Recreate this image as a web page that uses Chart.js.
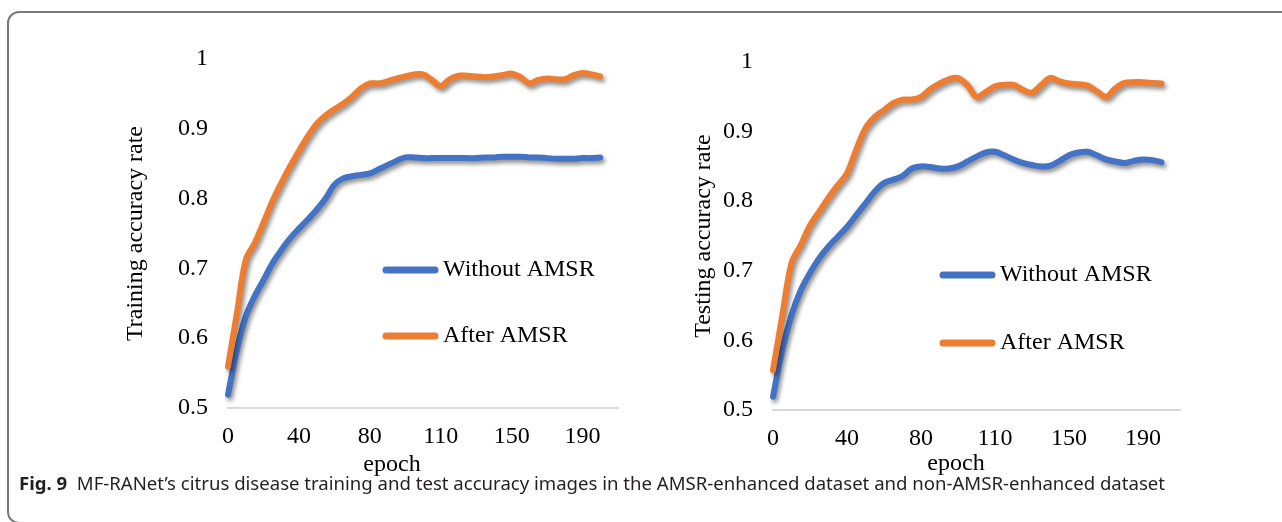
<!DOCTYPE html>
<html>
<head>
<meta charset="utf-8">
<script src="https://cdn.jsdelivr.net/npm/chart.js@4.4.0/dist/chart.umd.min.js"></script>
<style>
  html, body { margin: 0; padding: 0; background: #fff; }
  body { width: 1282px; height: 522px; position: relative; overflow: hidden; }
  .frame { position: absolute; left: 7px; top: 11px; width: 1300px; height: 513px;
           border: 2px solid #7a7a7a; border-radius: 12px; box-sizing: border-box; }
  .box { position: absolute; }
  #caption { position: absolute; left: 19px; top: 471px; font-family: 'Noto Sans', sans-serif;
             font-size: 18px; line-height: 24px; color: #231f20; white-space: nowrap; transform-origin: 0 0; }
</style>
</head>
<body>
<div class="frame"></div>
<div class="box" style="left:100px; top:20px;"><canvas id="train" width="540" height="470"></canvas></div>
<div class="box" style="left:660px; top:20px;"><canvas id="test" width="545" height="470"></canvas></div>
<div id="caption"><b>Fig. 9</b>&nbsp; MF-RANet’s citrus disease training and test accuracy images in the AMSR-enhanced dataset and non-AMSR-enhanced dataset</div>

<script>
// x axis: 45 categories, a label every 8th one
const tickLabels = ['0', '40', '80', '110', '150', '190'];
const epochs = Array.from({ length: 45 }, (_, i) => (i % 8 === 0 && tickLabels[i / 8]) || '');

const seriesNames = ['Without AMSR', 'After AMSR'];
const seriesColors = ['#4472C4', '#ED7D31'];

const trainWithout = [0.519, 0.583, 0.631, 0.660, 0.683, 0.707, 0.726, 0.743, 0.757, 0.770,
  0.784, 0.800, 0.820, 0.829, 0.832, 0.834, 0.836, 0.842, 0.848, 0.854,
  0.859, 0.859, 0.858, 0.858, 0.858, 0.858, 0.858, 0.858, 0.858, 0.859,
  0.859, 0.860, 0.860, 0.860, 0.859, 0.859, 0.858, 0.857, 0.857, 0.857,
  0.858, 0.858, 0.859];
const trainAfter = [0.559, 0.635, 0.712, 0.736, 0.765, 0.796, 0.822, 0.846, 0.868, 0.889,
  0.907, 0.919, 0.928, 0.936, 0.946, 0.958, 0.965, 0.965, 0.968, 0.972,
  0.975, 0.978, 0.978, 0.970, 0.961, 0.971, 0.976, 0.976, 0.975, 0.974,
  0.975, 0.977, 0.979, 0.974, 0.965, 0.970, 0.972, 0.971, 0.971, 0.977,
  0.980, 0.978, 0.975];
const testWithout = [0.519, 0.586, 0.636, 0.672, 0.697, 0.718, 0.735, 0.749, 0.763, 0.780,
  0.797, 0.814, 0.826, 0.831, 0.836, 0.847, 0.850, 0.849, 0.847, 0.847,
  0.850, 0.857, 0.864, 0.870, 0.871, 0.866, 0.860, 0.855, 0.852, 0.850,
  0.851, 0.858, 0.866, 0.870, 0.871, 0.866, 0.860, 0.857, 0.855, 0.858,
  0.860, 0.859, 0.856];
const testAfter = [0.557, 0.635, 0.711, 0.737, 0.765, 0.785, 0.805, 0.823, 0.840, 0.874,
  0.905, 0.921, 0.931, 0.941, 0.946, 0.946, 0.950, 0.961, 0.969, 0.975,
  0.977, 0.967, 0.950, 0.957, 0.965, 0.967, 0.967, 0.960, 0.956, 0.967,
  0.977, 0.972, 0.969, 0.968, 0.966, 0.958, 0.950, 0.962, 0.970, 0.971,
  0.971, 0.970, 0.969];

const serif = "'Times New Roman', 'Liberation Serif', serif";

// excel style drop shadow under the lines
const shadowPlugin = {
  id: 'lineShadow',
  beforeDatasetDraw(chart) {
    const ctx = chart.ctx;
    ctx.save();
    ctx.shadowColor = 'rgba(0,0,0,0.45)';
    ctx.shadowBlur = 4;
    ctx.shadowOffsetX = 2;
    ctx.shadowOffsetY = 3;
  },
  afterDatasetDraw(chart) {
    chart.ctx.restore();
  }
};

// legend inside the plot + x title that is centred on the excel plot area
const extrasPlugin = {
  id: 'extras',
  afterDraw(chart, args, opts) {
    const ctx = chart.ctx;
    ctx.save();
    ctx.font = '24px ' + serif;
    ctx.textBaseline = 'middle';
    ctx.fillStyle = '#000';
    seriesNames.forEach((name, i) => {
      const y = opts.legendY[i];
      ctx.strokeStyle = seriesColors[i];
      ctx.lineWidth = 7;
      ctx.lineCap = 'round';
      ctx.beginPath();
      ctx.moveTo(opts.legendX, y);
      ctx.lineTo(opts.legendX + 49, y);
      ctx.stroke();
      ctx.textAlign = 'left';
      ctx.fillText(name, opts.legendX + 57, y);
    });
    ctx.textAlign = 'center';
    ctx.fillText('epoch', opts.titleX, opts.titleY);
    ctx.restore();
  }
};

function makeChart(id, yTitle, without, after, lay) {
  const values = [without, after];
  new Chart(document.getElementById(id), {
    type: 'line',
    data: {
      labels: epochs,
      datasets: values.map((v, i) => ({
        label: seriesNames[i],
        data: v,
        borderColor: seriesColors[i],
        backgroundColor: seriesColors[i],
        borderWidth: 6,
        borderCapStyle: 'round',
        borderJoinStyle: 'round',
        pointRadius: 0,
        tension: 0.35,
        order: 2 - i
      }))
    },
    options: {
      responsive: false,
      animation: false,
      layout: { padding: { top: lay.top, right: lay.right, bottom: 0, left: 0 } },
      plugins: {
        legend: { display: false },
        tooltip: { enabled: false },
        extras: lay.extras
      },
      scales: {
        x: {
          type: 'category',
          offset: false,
          grid: { display: false, drawTicks: false },
          border: { display: true, color: '#d9d9d9', width: 2 },
          ticks: { autoSkip: false, maxRotation: 0, minRotation: 0, padding: 14,
                   color: '#000', font: { family: serif, size: 24 } },
          afterFit(scale) { scale.height = lay.xHeight; }
        },
        y: {
          min: 0.5,
          max: 1,
          grid: { display: false, drawTicks: false },
          border: { display: false },
          ticks: { stepSize: 0.1, padding: 20, color: '#000', font: { family: serif, size: 24 },
                   callback: v => String(+v.toFixed(1)) },
          title: { display: true, text: yTitle, color: '#000', font: { family: serif, size: 24 },
                   padding: { top: lay.yTitlePad, bottom: 0 } },
          afterFit(scale) { scale.width = lay.yWidth; }
        }
      }
    },
    plugins: [shadowPlugin, extrasPlugin]
  });
}

makeChart('train', 'Training accuracy rate', trainWithout, trainAfter, {
  top: 39, right: 22, xHeight: 82, yWidth: 128, yTitlePad: 21,
  extras: { legendX: 286, legendY: [250, 316], titleX: 292, titleY: 445 }
});
makeChart('test', 'Testing accuracy rate', testWithout, testAfter, {
  top: 42, right: 25, xHeight: 80, yWidth: 113, yTitlePad: 29,
  extras: { legendX: 283, legendY: [255, 323], titleX: 296, titleY: 444 }
});

// stretch the caption to the width it has in the figure
const cap = document.getElementById('caption');
cap.style.transform = 'scaleX(' + (1146 / cap.getBoundingClientRect().width) + ')';
</script>
</body>
</html>
